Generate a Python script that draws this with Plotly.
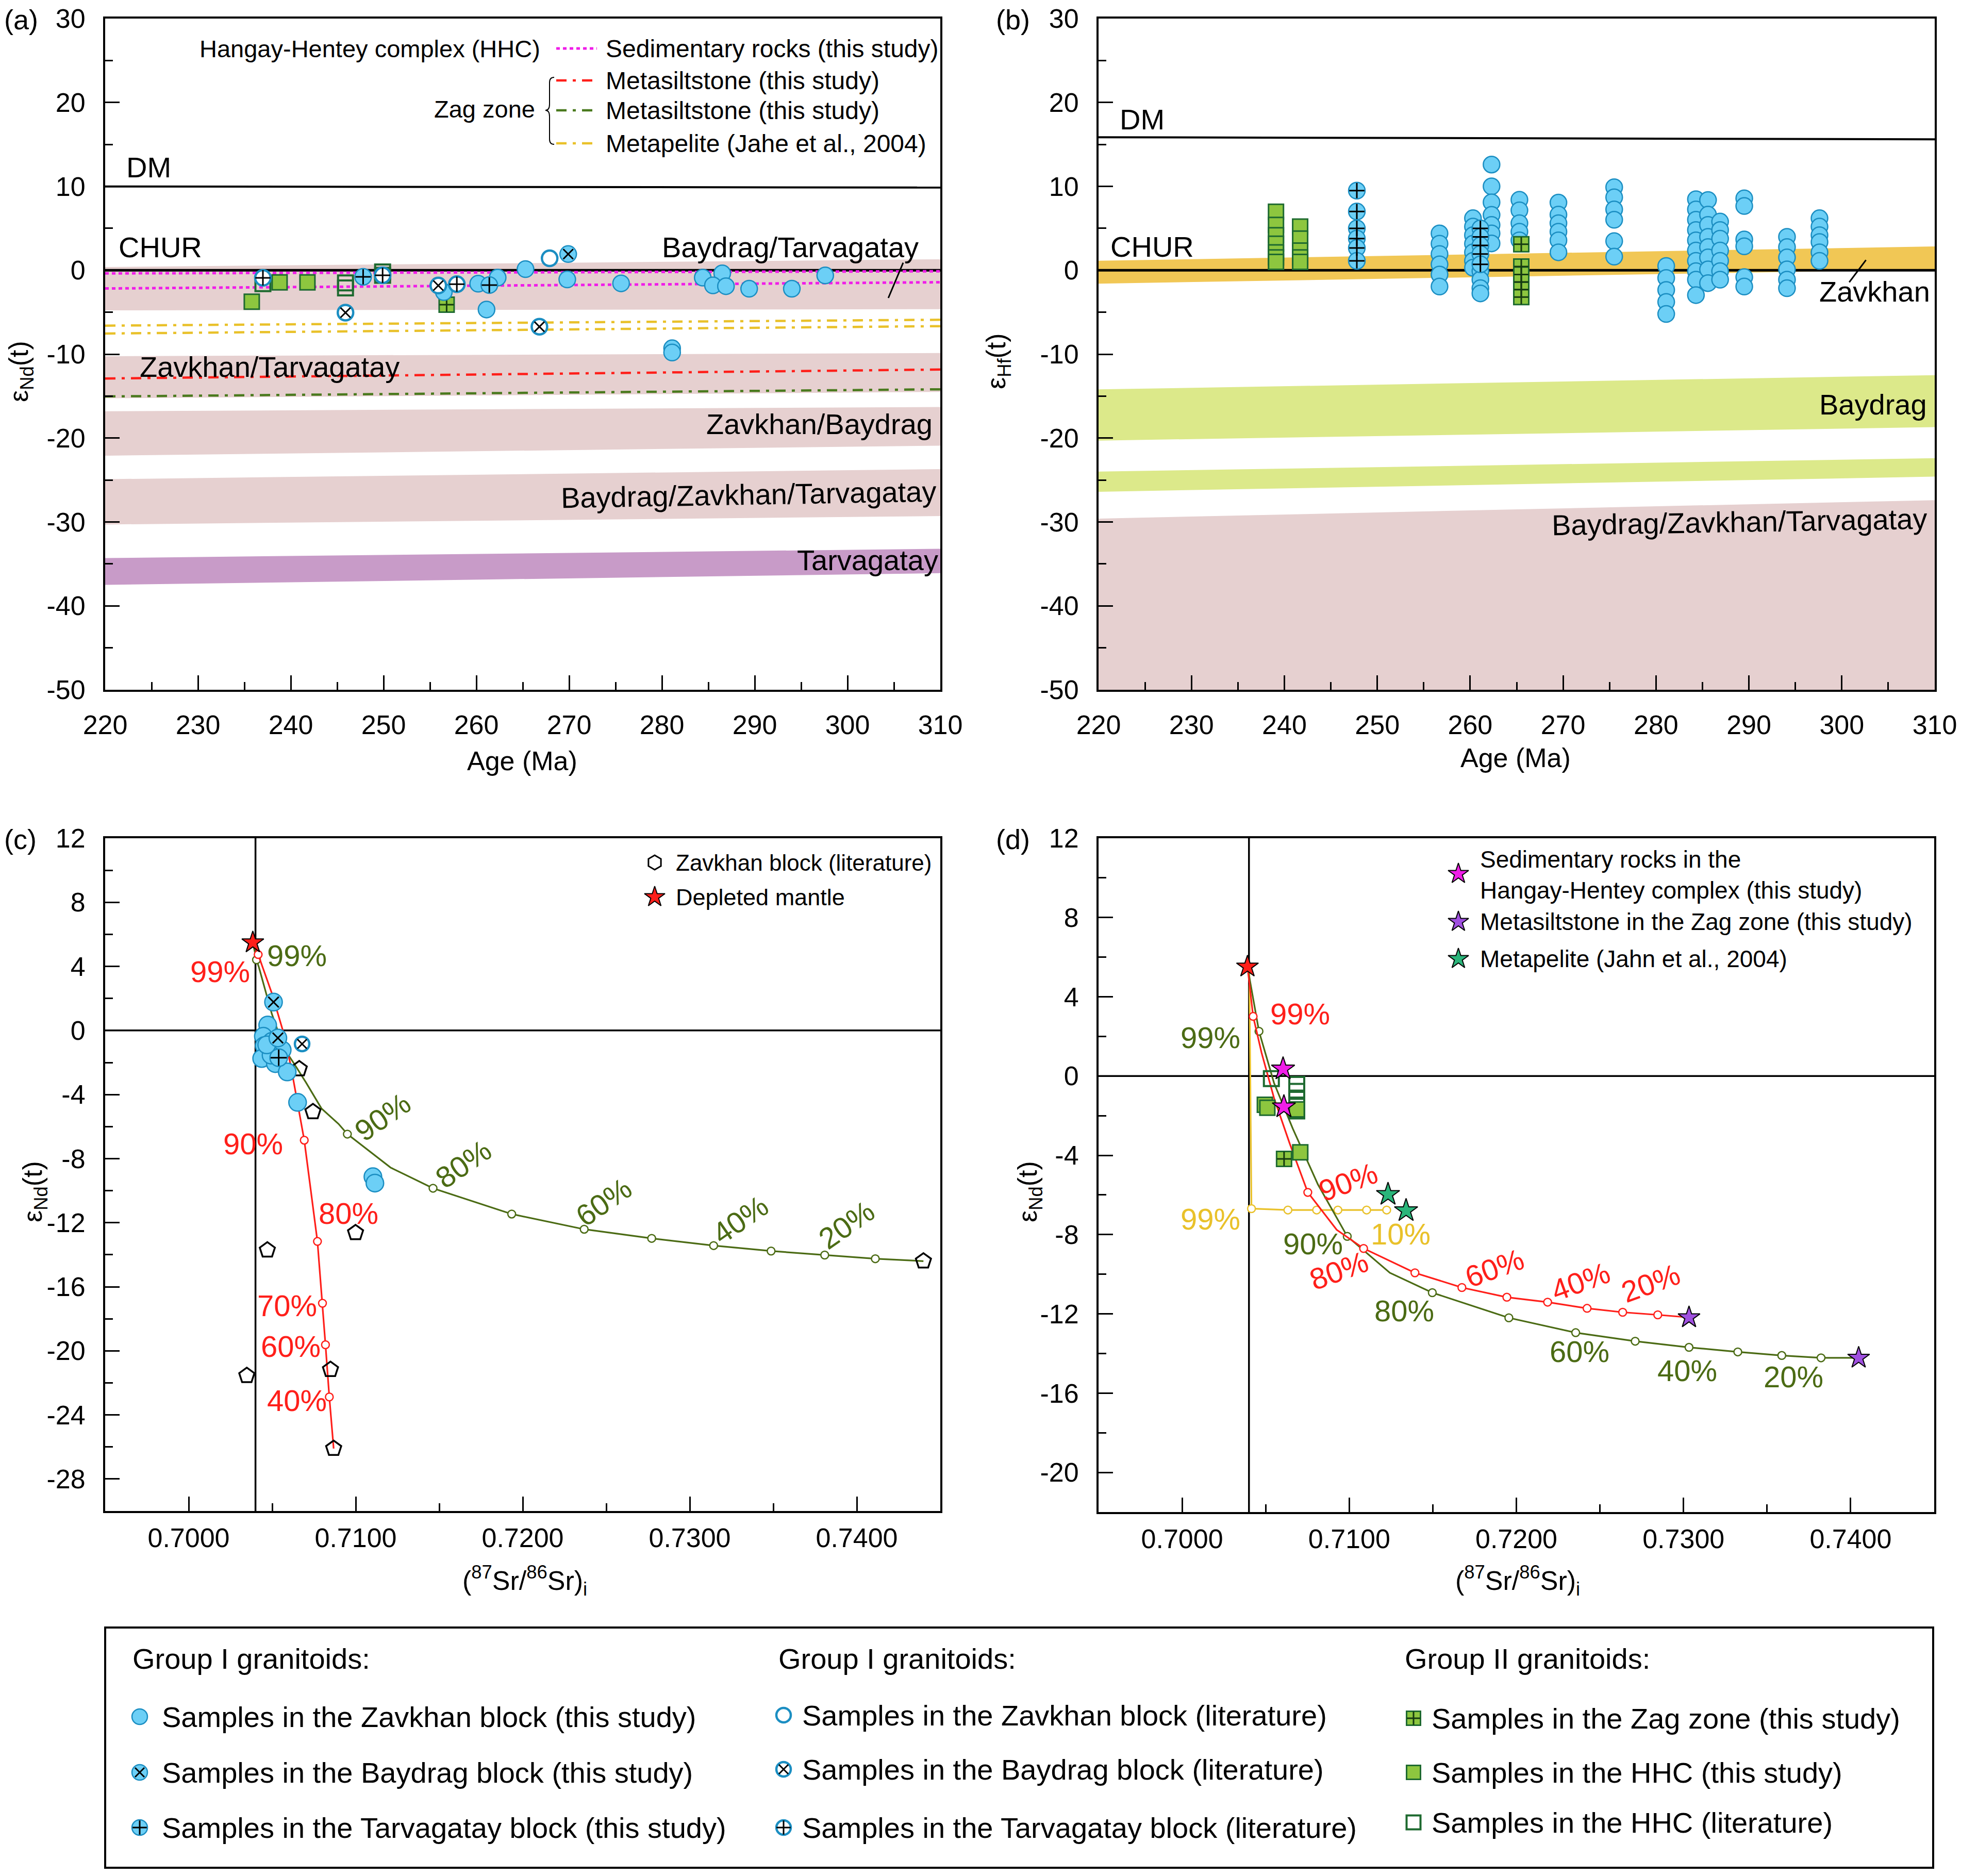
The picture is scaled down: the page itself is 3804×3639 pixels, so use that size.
import plotly.graph_objects as go

FONT = "Liberation Sans, Arial, Helvetica, sans-serif"
W, H = 3804, 3639

BLUE_F, BLUE_L = "#6ccff6", "#1b8ec2"
GREEN_F, GREEN_L = "#8dc63f", "#1e6a30"
RED = "#ff1f1a"
OLIVE = "#4b6b14"
YELLOW = "#e9c12a"
MAGENTA = "#f01ee8"
PURPLE = "#a050e0"
TEAL = "#2ab57a"
PINK_BAND = "#e6d0d0"
PURPLE_BAND = "#c89bc8"
ORANGE_BAND = "#f1c755"
LIME_BAND = "#dce98a"

# ======================= DATA =======================
# ---- Panel (a): eNd(t) vs age ----
a_age_ends = [220, 310]
a_dm_line = [9.99, 9.86]
a_chur_line = [0.0, 0.0]
a_sed_upper = [-0.37, -0.12]
a_sed_lower = [-2.17, -1.43]
a_zag_red = [-12.9, -11.83]
a_zag_green = [-15.04, -14.19]
a_metapelite_upper = [-6.6, -5.9]
a_metapelite_lower = [-7.54, -6.66]

a_band_labels = ["Baydrag/Tarvagatay", "Zavkhan/Tarvagatay", "Zavkhan/Baydrag",
                 "Baydrag/Zavkhan/Tarvagatay", "Tarvagatay"]
a_band_top_220 = [0.39, -10.25, -16.8, -24.9, -34.3]
a_band_top_310 = [1.31, -9.86, -16.3, -23.7, -33.2]
a_band_bot_220 = [-4.78, -15.26, -22.1, -30.3, -37.5]
a_band_bot_310 = [-4.64, -14.5, -20.9, -29.3, -36.1]

a_zav_this_age = [256.5, 260.2, 262.3, 261.1, 265.3, 269.8, 275.6, 284.4, 286.5, 285.5, 286.9, 289.4, 294.0, 297.6, 281.1, 281.1]
a_zav_this_end = [-2.6, -1.6, -0.88, -4.68, 0.14, -1.09, -1.56, -0.88, -0.37, -1.8, -1.9, -2.2, -2.2, -0.62, -9.3, -9.8]
a_bay_this_age = [269.9]
a_bay_this_end = [1.93]
a_tar_this_age = [247.8, 261.4]
a_tar_this_end = [-0.78, -1.76]
a_zav_lit_age = [267.9]
a_zav_lit_end = [1.43]
a_bay_lit_age = [245.9, 255.9, 266.8]
a_bay_lit_end = [-5.05, -1.82, -6.73]
a_tar_lit_age = [237.0, 249.9, 257.9]
a_tar_lit_end = [-0.9, -0.6, -1.66]
a_hhc_this_age = [235.8, 238.8, 241.8]
a_hhc_this_end = [-3.75, -1.44, -1.44]
a_hhc_lit_age = [237.0, 245.9, 245.9, 249.9, 249.9]
a_hhc_lit_end = [-1.6, -1.5, -2.1, -0.2, -0.6]
a_zag_this_age = [256.8]
a_zag_this_end = [-4.1]

# ---- Panel (b): eHf(t) vs age ----
b_age_ends = [220, 310]
b_dm_line = [15.86, 15.6]
b_chur_line = [0.0, 0.0]
b_band_labels = ["Zavkhan", "Baydrag", "", "Baydrag/Zavkhan/Tarvagatay"]
b_band_top_220 = [1.13, -14.2, -24.0, -29.6]
b_band_top_310 = [2.84, -12.5, -22.4, -27.4]
b_band_bot_220 = [-1.59, -20.3, -26.4, -50.0]
b_band_bot_310 = [0.1, -18.7, -24.6, -50.0]

b_zav_this_age = [256.7, 256.7, 256.7, 256.7, 256.7, 256.7,
                  260.3, 260.3, 260.3, 260.3, 260.3, 260.3, 260.3,
                  261.1, 261.1, 261.1, 261.1,
                  262.3, 262.3, 262.3, 262.3, 262.3, 262.3, 262.3,
                  265.3, 265.3, 265.3, 265.3, 265.3,
                  269.5, 269.5, 269.5, 269.5, 269.5, 269.5,
                  275.5, 275.5, 275.5, 275.5, 275.5, 275.5,
                  281.1, 281.1, 281.1, 281.1, 281.1,
                  284.3, 284.3, 284.3, 284.3, 284.3, 284.3, 284.3, 284.3, 284.3, 284.3,
                  285.6, 285.6, 285.6, 285.6, 285.6, 285.6, 285.6, 285.6,
                  286.9, 286.9, 286.9, 286.9, 286.9, 286.9, 286.9,
                  289.5, 289.5, 289.5, 289.5, 289.5, 289.5,
                  294.1, 294.1, 294.1, 294.1, 294.1, 294.1,
                  297.6, 297.6, 297.6, 297.6, 297.6, 297.6]
b_zav_this_ehf = [4.39, 3.17, 1.94, 0.71, -0.51, -1.94,
                  6.2, 5.2, 4.18, 3.16, 2.14, 1.12, 0.31,
                  -0.1, -1.12, -2.14, -2.76,
                  12.6, 10.0, 8.1, 6.6, 5.4, 4.4, 3.2,
                  8.4, 7.15, 5.61, 4.59, 3.57,
                  8.06, 6.63, 5.61, 4.59, 3.57, 2.14,
                  9.9, 8.7, 7.25, 6.02, 3.47, 1.63,
                  0.51, -0.92, -2.35, -3.78, -5.21,
                  8.47, 7.25, 6.02, 4.8, 3.57, 2.35, 1.12, -0.1, -1.12, -2.96,
                  8.37, 6.63, 5.41, 3.98, 2.76, 1.53, 0.1, -1.53,
                  5.8, 4.8, 3.77, 2.35, 1.12, -0.1, -1.12,
                  8.57, 7.66, 3.67, 2.86, -0.82, -1.94,
                  3.98, 2.76, 1.53, 0.1, -1.12, -2.14,
                  6.2, 5.2, 4.18, 3.37, 2.14, 1.12]
b_tar_this_age = [247.8, 247.8, 247.8, 247.8, 247.8, 247.8, 261.1, 261.1, 261.1, 261.1, 261.1]
b_tar_this_ehf = [9.49, 7.0, 5.0, 3.78, 2.65, 1.12, 5.0, 3.98, 2.96, 1.94, 0.71]
b_hhc_this_age = [239.1, 239.1, 239.1, 239.1, 239.1, 239.1, 239.1, 241.7, 241.7, 241.7, 241.7, 241.7]
b_hhc_this_ehf = [6.98, 5.41, 4.18, 3.16, 2.14, 1.53, 1.0, 5.2, 3.78, 2.35, 1.53, 1.0]
b_zag_this_age = [265.5, 265.5, 265.5, 265.5, 265.5, 265.5]
b_zag_this_ehf = [3.1, 0.45, -0.5, -1.4, -2.3, -3.2]

# ---- Panel (c): eNd(t) vs (87Sr/86Sr)i ----
c_dm_sr = [0.70384]
c_dm_nd = [5.49]
c_ref_sr = 0.7040
c_zav_this_sr = [0.70473, 0.70447, 0.70452, 0.70437, 0.70519, 0.70590, 0.70652, 0.70498, 0.70560, 0.70493, 0.70467, 0.71103, 0.71115]
c_zav_this_nd = [0.34, -0.36, -0.95, -1.75, -2.07, -2.59, -4.49, -0.68, -1.22, -1.54, -0.90, -9.13, -9.53]
c_bay_this_sr = [0.70508, 0.70534]
c_bay_this_nd = [1.77, -0.47]
c_tar_this_sr = [0.70539]
c_tar_this_nd = [-1.70]
c_bay_lit_sr = [0.70679]
c_bay_lit_nd = [-0.84]
c_zavblock_sr = [0.70662, 0.70744, 0.70999, 0.70471, 0.70348, 0.70849, 0.70868, 0.74399]
c_zavblock_nd = [-2.40, -5.08, -12.63, -13.71, -21.55, -21.17, -26.10, -14.40]
c_red_curve_sr = [0.70384, 0.70416, 0.70498, 0.70565, 0.70611, 0.70652, 0.70692, 0.70771, 0.70801, 0.70819, 0.70842, 0.70868]
c_red_curve_nd = [5.49, 4.74, 2.32, -0.04, -2.18, -4.54, -6.85, -13.17, -17.03, -19.62, -22.88, -26.10]
c_red_mark_sr = [0.70416, 0.70692, 0.70771, 0.70801, 0.70819, 0.70842]
c_red_mark_nd = [4.74, -6.85, -13.17, -17.03, -19.62, -22.88]
c_green_curve_sr = [0.70384, 0.70406, 0.70421, 0.70498, 0.70570, 0.70631, 0.70703, 0.70795, 0.70897, 0.70950, 0.71209,
                    0.71463, 0.71934, 0.72368, 0.72772, 0.73143, 0.73487, 0.73808, 0.74111, 0.74399]
c_green_curve_nd = [5.49, 4.41, 3.93, 1.03, -1.11, -2.07, -3.26, -4.87, -5.83, -6.47, -8.56,
                    -9.85, -11.46, -12.41, -12.98, -13.43, -13.77, -14.02, -14.25, -14.40]
c_green_mark_sr = [0.70406, 0.70950, 0.71463, 0.71934, 0.72368, 0.72772, 0.73143, 0.73487, 0.73808, 0.74111]
c_green_mark_nd = [4.41, -6.47, -9.85, -11.46, -12.41, -12.98, -13.43, -13.77, -14.02, -14.25]
c_red_pct = ["99%", "90%", "80%", "70%", "60%", "40%"]
c_red_pct_sr = [0.70187, 0.70385, 0.70958, 0.70591, 0.70610, 0.70647]
c_red_pct_nd = [3.68, -7.07, -11.40, -17.19, -19.72, -23.10]
c_green_pct = ["99%", "90%", "80%", "60%", "40%", "20%"]
c_green_pct_sr = [0.70647, 0.71160, 0.71646, 0.72484, 0.73303, 0.73939]
c_green_pct_nd = [4.69, -5.39, -8.34, -10.71, -11.81, -12.13]

# ---- Panel (d): eNd(t) vs (87Sr/86Sr)i ----
d_dm_sr = [0.70391]
d_dm_nd = [5.52]
d_ref_sr = 0.7040
d_red_curve_sr = [0.70391, 0.70425, 0.70475, 0.70550, 0.70644, 0.70752, 0.70925, 0.71086, 0.71393, 0.71674, 0.71943,
                  0.72187, 0.72423, 0.72636, 0.72846, 0.73033]
d_red_curve_nd = [5.52, 3.01, 1.19, -1.11, -3.41, -5.87, -7.76, -8.70, -9.93, -10.67, -11.16,
                  -11.41, -11.72, -11.92, -12.05, -12.18]
d_red_mark_sr = [0.70425, 0.70752, 0.71086, 0.71393, 0.71674, 0.71943, 0.72187, 0.72423, 0.72636, 0.72846]
d_red_mark_nd = [3.01, -5.87, -8.70, -9.93, -10.67, -11.16, -11.41, -11.72, -11.92, -12.05]
d_green_curve_sr = [0.70391, 0.70460, 0.70550, 0.70662, 0.70812, 0.70988, 0.71243, 0.71497, 0.71955, 0.72355, 0.72711,
                    0.73033, 0.73325, 0.73588, 0.73823, 0.74048]
d_green_curve_nd = [5.52, 2.26, -0.35, -2.65, -5.46, -8.09, -9.93, -10.93, -12.20, -12.95, -13.38,
                    -13.69, -13.92, -14.10, -14.22, -14.22]
d_green_mark_sr = [0.70460, 0.70988, 0.71497, 0.71955, 0.72355, 0.72711, 0.73033, 0.73325, 0.73588, 0.73823]
d_green_mark_nd = [2.26, -8.09, -10.93, -12.20, -12.95, -13.38, -13.69, -13.92, -14.10, -14.22]
d_yellow_curve_sr = [0.70402, 0.70415, 0.70633, 0.70805, 0.70932, 0.71104, 0.71224]
d_yellow_curve_nd = [5.52, -6.69, -6.76, -6.76, -6.76, -6.76, -6.76]
d_yellow_mark_sr = [0.70415, 0.70633, 0.70805, 0.70932, 0.71104, 0.71224]
d_yellow_mark_nd = [-6.69, -6.76, -6.76, -6.76, -6.76, -6.76]
d_sed_sr = [0.70604, 0.70609]
d_sed_nd = [0.36, -1.55]
d_metasilt_sr = [0.73033, 0.74048]
d_metasilt_nd = [-12.18, -14.22]
d_metapelite_sr = [0.71232, 0.71340]
d_metapelite_nd = [-5.97, -6.79]
d_hhc_lit_sr = [0.70534, 0.70686, 0.70686, 0.70686, 0.70686, 0.70686]
d_hhc_lit_nd = [-0.13, -0.42, -0.77, -1.11, -1.46, -1.76]
d_hhc_this_sr = [0.70495, 0.70510, 0.70686, 0.70707]
d_hhc_this_nd = [-1.45, -1.60, -1.68, -3.85]
d_zag_this_sr = [0.70610]
d_zag_this_nd = [-4.18]
d_red_pct = ["99%", "90%", "80%", "60%", "40%", "20%"]
d_red_pct_sr = [0.70707, 0.70992, 0.70936, 0.71868, 0.72385, 0.72805]
d_red_pct_nd = [3.15, -5.33, -9.80, -9.68, -10.36, -10.44]
d_green_pct = ["99%", "90%", "80%", "60%", "40%", "20%"]
d_green_pct_sr = [0.70168, 0.70782, 0.71329, 0.72378, 0.73022, 0.73659]
d_green_pct_nd = [1.95, -8.47, -11.85, -13.89, -14.86, -15.17]
d_yellow_pct = ["99%", "10%"]
d_yellow_pct_sr = [0.70168, 0.71307]
d_yellow_pct_nd = [-7.20, -7.96]

# tick labels
age_ticks = [220, 230, 240, 250, 260, 270, 280, 290, 300, 310]
eps_ab_ticks = [30, 20, 10, 0, -10, -20, -30, -40, -50]
sr_ticks = [0.70, 0.71, 0.72, 0.73, 0.74]
sr_ticktext = ["0.7000", "0.7100", "0.7200", "0.7300", "0.7400"]
eps_c_ticks = [12, 8, 4, 0, -4, -8, -12, -16, -20, -24, -28]
eps_d_ticks = [12, 8, 4, 0, -4, -8, -12, -16, -20]

# ======================= FIGURE =======================
fig = go.Figure()

def dom_x(p0, p1):
    return [p0 / W, p1 / W]

def dom_y(p0, p1):
    return [1 - p1 / H, 1 - p0 / H]

def band(xe, t0, t1, b0, b1, color, xa, ya):
    fig.add_trace(go.Scatter(x=[xe[0], xe[1], xe[1], xe[0]], y=[t0, t1, b1, b0],
                             fill="toself", fillcolor=color, mode="lines", line=dict(width=0),
                             xaxis=xa, yaxis=ya, showlegend=False, hoverinfo="skip"))

def line(x, y, color, width, xa, ya, dash="solid"):
    fig.add_trace(go.Scatter(x=x, y=y, mode="lines", line=dict(color=color, width=width, dash=dash),
                             xaxis=xa, yaxis=ya, showlegend=False, hoverinfo="skip"))

def pts(x, y, kind, xa, ya, size=32):
    base = dict(x=x, y=y, mode="markers", xaxis=xa, yaxis=ya, showlegend=False, hoverinfo="skip")
    if kind in ("zav_this", "bay_this", "tar_this"):
        mk = dict(symbol="circle", size=size, color=BLUE_F, line=dict(color=BLUE_L, width=2.5))
    elif kind in ("zav_lit", "bay_lit", "tar_lit"):
        mk = dict(symbol="circle", size=size - 2, color="white", line=dict(color=BLUE_L, width=4.5))
    elif kind in ("hhc_this", "zag_this"):
        mk = dict(symbol="square", size=size - 3, color=GREEN_F, line=dict(color=GREEN_L, width=3))
    elif kind == "hhc_lit":
        mk = dict(symbol="square", size=size - 3, color="rgba(0,0,0,0)", line=dict(color=GREEN_L, width=4))
    fig.add_trace(go.Scatter(**base, marker=mk))
    if kind.startswith("bay"):
        fig.add_trace(go.Scatter(**base, marker=dict(symbol="x-thin", size=size * 0.6, color="black",
                                                     line=dict(color="black", width=3))))
    if kind.startswith("tar"):
        fig.add_trace(go.Scatter(**base, marker=dict(symbol="cross-thin", size=size * 0.66, color="black",
                                                     line=dict(color="black", width=3))))
    if kind == "zag_this":
        fig.add_trace(go.Scatter(**base, marker=dict(symbol="cross-thin", size=size * 0.62, color="#153a10",
                                                     line=dict(color="#153a10", width=3))))

def stars(x, y, color, xa, ya, size=32):
    fig.add_trace(go.Scatter(x=x, y=y, mode="markers", xaxis=xa, yaxis=ya, showlegend=False, hoverinfo="skip",
                             marker=dict(symbol="star", size=size, color=color, line=dict(color="black", width=2))))

def curve(x, y, mx, my, color, xa, ya):
    fig.add_trace(go.Scatter(x=x, y=y, mode="lines", line=dict(color=color, width=3.2),
                             xaxis=xa, yaxis=ya, showlegend=False, hoverinfo="skip"))
    fig.add_trace(go.Scatter(x=mx, y=my, mode="markers", xaxis=xa, yaxis=ya, showlegend=False, hoverinfo="skip",
                             marker=dict(symbol="circle", size=15, color="white", line=dict(color=color, width=2.5))))

DASHDOT = "20px,12px,6px,12px"
DOT = "7px,6px"

# ---------- Panel (a) ----------
for i in range(len(a_band_labels)):
    col = PURPLE_BAND if a_band_labels[i] == "Tarvagatay" else PINK_BAND
    band(a_age_ends, a_band_top_220[i], a_band_top_310[i], a_band_bot_220[i], a_band_bot_310[i], col, "x", "y")
line(a_age_ends, a_dm_line, "black", 4, "x", "y")
line(a_age_ends, a_chur_line, "black", 5, "x", "y")
line(a_age_ends, a_metapelite_upper, YELLOW, 4.5, "x", "y", DASHDOT)
line(a_age_ends, a_metapelite_lower, YELLOW, 4.5, "x", "y", DASHDOT)
line(a_age_ends, a_zag_red, RED, 4.5, "x", "y", DASHDOT)
line(a_age_ends, a_zag_green, "#4a7a1e", 4.5, "x", "y", DASHDOT)
line(a_age_ends, a_sed_upper, MAGENTA, 5, "x", "y", DOT)
line(a_age_ends, a_sed_lower, MAGENTA, 5, "x", "y", DOT)
pts(a_hhc_lit_age, a_hhc_lit_end, "hhc_lit", "x", "y")
pts(a_hhc_this_age, a_hhc_this_end, "hhc_this", "x", "y")
pts(a_zag_this_age, a_zag_this_end, "zag_this", "x", "y")
pts(a_zav_this_age, a_zav_this_end, "zav_this", "x", "y")
pts(a_bay_this_age, a_bay_this_end, "bay_this", "x", "y")
pts(a_tar_this_age, a_tar_this_end, "tar_this", "x", "y")
pts(a_zav_lit_age, a_zav_lit_end, "zav_lit", "x", "y")
pts(a_bay_lit_age, a_bay_lit_end, "bay_lit", "x", "y")
pts(a_tar_lit_age, a_tar_lit_end, "tar_lit", "x", "y")

# ---------- Panel (b) ----------
b_colors = [ORANGE_BAND, LIME_BAND, LIME_BAND, PINK_BAND]
for i in range(len(b_band_labels)):
    band(b_age_ends, b_band_top_220[i], b_band_top_310[i], b_band_bot_220[i], b_band_bot_310[i], b_colors[i], "x2", "y2")
line(b_age_ends, b_dm_line, "black", 4, "x2", "y2")
line(b_age_ends, b_chur_line, "black", 5, "x2", "y2")
pts(b_hhc_this_age, b_hhc_this_ehf, "hhc_this", "x2", "y2")
pts(b_zav_this_age, b_zav_this_ehf, "zav_this", "x2", "y2")
pts(b_tar_this_age, b_tar_this_ehf, "tar_this", "x2", "y2")
pts(b_zag_this_age, b_zag_this_ehf, "zag_this", "x2", "y2")

# ---------- Panel (c) ----------
curve(c_green_curve_sr, c_green_curve_nd, c_green_mark_sr, c_green_mark_nd, OLIVE, "x3", "y3")
curve(c_red_curve_sr, c_red_curve_nd, c_red_mark_sr, c_red_mark_nd, RED, "x3", "y3")
fig.add_trace(go.Scatter(x=c_zavblock_sr, y=c_zavblock_nd, mode="markers", xaxis="x3", yaxis="y3",
                         showlegend=False, hoverinfo="skip",
                         marker=dict(symbol="pentagon", size=31, color="rgba(0,0,0,0)",
                                     line=dict(color="black", width=3.5))))
pts(c_zav_this_sr, c_zav_this_nd, "zav_this", "x3", "y3", size=34)
pts(c_bay_this_sr, c_bay_this_nd, "bay_this", "x3", "y3", size=34)
pts(c_tar_this_sr, c_tar_this_nd, "tar_this", "x3", "y3", size=34)
pts(c_bay_lit_sr, c_bay_lit_nd, "bay_lit", "x3", "y3", size=30)
stars(c_dm_sr, c_dm_nd, RED, "x3", "y3", size=32)

# ---------- Panel (d) ----------
curve(d_yellow_curve_sr, d_yellow_curve_nd, d_yellow_mark_sr, d_yellow_mark_nd, YELLOW, "x4", "y4")
curve(d_green_curve_sr, d_green_curve_nd, d_green_mark_sr, d_green_mark_nd, OLIVE, "x4", "y4")
curve(d_red_curve_sr, d_red_curve_nd, d_red_mark_sr, d_red_mark_nd, RED, "x4", "y4")
pts(d_hhc_lit_sr, d_hhc_lit_nd, "hhc_lit", "x4", "y4")
pts(d_hhc_this_sr, d_hhc_this_nd, "hhc_this", "x4", "y4")
pts(d_zag_this_sr, d_zag_this_nd, "zag_this", "x4", "y4")
stars(d_sed_sr, d_sed_nd, MAGENTA, "x4", "y4", size=34)
stars(d_metasilt_sr, d_metasilt_nd, PURPLE, "x4", "y4")
stars(d_metapelite_sr, d_metapelite_nd, TEAL, "x4", "y4", size=34)
stars(d_dm_sr, d_dm_nd, RED, "x4", "y4")

# ---------- Overlay (pixel space) legend keys ----------
OV = ("x5", "y5")
line([1079, 1158], [94, 94], MAGENTA, 5, *OV, DOT)
line([1079, 1158], [156, 156], RED, 4.5, *OV, DASHDOT)
line([1079, 1158], [214, 214], "#4a7a1e", 4.5, *OV, DASHDOT)
line([1079, 1158], [278, 278], YELLOW, 4.5, *OV, DASHDOT)
fig.add_trace(go.Scatter(x=[1270], y=[1673], mode="markers", xaxis="x5", yaxis="y5", showlegend=False,
                         hoverinfo="skip", marker=dict(symbol="hexagon", size=28, color="rgba(0,0,0,0)",
                                                       line=dict(color="black", width=3))))
stars([1270], [1740], RED, *OV, size=30)
stars([2829], [1695], MAGENTA, *OV, size=30)
stars([2829], [1788], PURPLE, *OV, size=30)
stars([2829], [1860], TEAL, *OV, size=30)
pts([271], [3330], "zav_this", *OV, size=30)
pts([271], [3438], "bay_this", *OV, size=30)
pts([271], [3545], "tar_this", *OV, size=30)
pts([1520], [3327], "zav_lit", *OV, size=30)
pts([1520], [3432], "bay_lit", *OV, size=30)
pts([1520], [3545], "tar_lit", *OV, size=30)
pts([2742], [3333], "zag_this", *OV, size=30)
pts([2742], [3438], "hhc_this", *OV, size=30)
pts([2742], [3535], "hhc_lit", *OV, size=30)

# ======================= AXES =======================
TF = dict(family=FONT, size=52, color="black")

def axis_common():
    return dict(showline=True, mirror=True, linecolor="black", linewidth=4, showgrid=False, zeroline=False,
                ticks="inside", tickwidth=3, tickcolor="black", tickfont=TF, fixedrange=True, automargin=False)

def age_axis(anchor, dom):
    d = axis_common()
    d.update(domain=dom, anchor=anchor, range=[220, 310], tickmode="array", tickvals=age_ticks,
             ticktext=[str(v) for v in age_ticks], ticklen=28, ticklabelstandoff=20,
             minor=dict(ticks="inside", ticklen=15, tickwidth=3, tickcolor="black", dtick=5, tick0=220))
    return d

def eps_axis(anchor, dom, rng, tv, minor_dt):
    d = axis_common()
    d.update(domain=dom, anchor=anchor, range=rng, tickmode="array", tickvals=tv,
             ticktext=[str(v) for v in tv], ticklen=28, ticklabelstandoff=24,
             minor=dict(ticks="inside", ticklen=15, tickwidth=3, tickcolor="black", dtick=minor_dt, tick0=0))
    return d

def sr_axis(anchor, dom):
    d = axis_common()
    d.update(domain=dom, anchor=anchor, range=[0.695, 0.745], tickmode="array", tickvals=sr_ticks,
             ticktext=sr_ticktext, ticklen=28, ticklabelstandoff=4,
             minor=dict(ticks="inside", ticklen=15, tickwidth=3, tickcolor="black", dtick=0.005, tick0=0.695))
    return d

A = (204, 1824, 36, 1338)
B = (2131, 3753, 36, 1338)
C = (204, 1824, 1626, 2931)
D = (2131, 3752, 1626, 2933)

layout_axes = dict(
    xaxis=age_axis("y", dom_x(A[0], A[1])),
    yaxis=eps_axis("x", dom_y(A[2], A[3]), [-50, 30], eps_ab_ticks, 5),
    xaxis2=age_axis("y2", dom_x(B[0], B[1])),
    yaxis2=eps_axis("x2", dom_y(B[2], B[3]), [-50, 30], eps_ab_ticks, 5),
    xaxis3=sr_axis("y3", dom_x(C[0], C[1])),
    yaxis3=eps_axis("x3", dom_y(C[2], C[3]), [-30, 12], eps_c_ticks, 2),
    xaxis4=sr_axis("y4", dom_x(D[0], D[1])),
    yaxis4=eps_axis("x4", dom_y(D[2], D[3]), [-22, 12], eps_d_ticks, 2),
    xaxis5=dict(domain=[0, 1], anchor="y5", range=[0, W], visible=False, fixedrange=True, automargin=False),
    yaxis5=dict(domain=[0, 1], anchor="x5", range=[H, 0], visible=False, fixedrange=True, automargin=False),
)

# ======================= TEXT =======================
ann = []

def txt(text, x, y, size, xref, yref, xanchor="left", yanchor="middle", color="black", angle=0):
    ann.append(dict(text=text, x=x, y=y, xref=xref, yref=yref, xanchor=xanchor, yanchor=yanchor,
                    showarrow=False, textangle=angle, align="left",
                    font=dict(family=FONT, size=size, color=color)))

# panel letters
txt("(a)", 6, 38, 54, "x5", "y5")
txt("(b)", 1930, 38, 54, "x5", "y5")
txt("(c)", 6, 1628, 54, "x5", "y5")
txt("(d)", 1930, 1628, 54, "x5", "y5")

# axis titles
txt("ε<sub>Nd</sub>(t)", 40, 721, 52, "x5", "y5", "center", "middle", angle=-90)
txt("ε<sub>Hf</sub>(t)", 1936, 701, 52, "x5", "y5", "center", "middle", angle=-90)
txt("ε<sub>Nd</sub>(t)", 67, 2312, 52, "x5", "y5", "center", "middle", angle=-90)
txt("ε<sub>Nd</sub>(t)", 1997, 2312, 52, "x5", "y5", "center", "middle", angle=-90)
txt("Age (Ma)", 1013, 1476, 52, "x5", "y5", "center", "middle")
txt("Age (Ma)", 2940, 1470, 52, "x5", "y5", "center", "middle")
txt("(<sup>87</sup>Sr/<sup>86</sup>Sr)<sub>i</sub>", 1018, 3066, 52, "x5", "y5", "center", "middle")
txt("(<sup>87</sup>Sr/<sup>86</sup>Sr)<sub>i</sub>", 2944, 3066, 52, "x5", "y5", "center", "middle")

# panel (a) legend
txt("Hangay-Hentey complex (HHC)", 1050, 94, 47, "x5", "y5", "right")
txt("Sedimentary rocks (this study)", 1173, 94, 48, "x5", "y5")
txt("Zag zone", 1040, 211, 47, "x5", "y5", "right")
txt("Metasiltstone (this study)", 1173, 156, 48, "x5", "y5")
txt("Metasiltstone (this study)", 1173, 214, 48, "x5", "y5")
txt("Metapelite (Jahe et al., 2004)", 1173, 278, 48, "x5", "y5")

# panel (a) labels
txt("DM", 222.15, 12.29, 56, "x", "y")
txt("CHUR", 221.35, 2.73, 56, "x", "y")
txt(a_band_labels[0], 307.8, 2.73, 56, "x", "y", "right")
txt(a_band_labels[1], 223.6, -11.5, 56, "x", "y")
txt(a_band_labels[2], 309.3, -18.35, 56, "x", "y", "right")
txt(a_band_labels[3], 309.7, -26.76, 56, "x", "y", "right", angle=-1)
txt(a_band_labels[4], 309.9, -34.55, 56, "x", "y", "right")

# panel (b) labels
txt("DM", 222.16, 17.97, 56, "x2", "y2")
txt("CHUR", 221.15, 2.81, 56, "x2", "y2")
txt(b_band_labels[0], 309.6, -2.55, 56, "x2", "y2", "right")
txt(b_band_labels[1], 309.3, -16.0, 56, "x2", "y2", "right")
txt(b_band_labels[3], 309.3, -30.0, 56, "x2", "y2", "right", angle=-1)

# panel (c) labels
for t, x, y in zip(c_red_pct, c_red_pct_sr, c_red_pct_nd):
    txt(t, x, y, 58, "x3", "y3", "center", "middle", RED)
for i, (t, x, y) in enumerate(zip(c_green_pct, c_green_pct_sr, c_green_pct_nd)):
    txt(t, x, y, 58, "x3", "y3", "center", "middle", OLIVE, 0 if i == 0 else -35)
txt("Zavkhan block (literature)", 1309, 1673, 44, "x5", "y5")
txt("Depleted mantle", 1309, 1740, 45, "x5", "y5")

# panel (d) labels
for i, (t, x, y) in enumerate(zip(d_red_pct, d_red_pct_sr, d_red_pct_nd)):
    txt(t, x, y, 58, "x4", "y4", "center", "middle", RED, 0 if i == 0 else -20)
for t, x, y in zip(d_green_pct, d_green_pct_sr, d_green_pct_nd):
    txt(t, x, y, 58, "x4", "y4", "center", "middle", OLIVE)
for t, x, y in zip(d_yellow_pct, d_yellow_pct_sr, d_yellow_pct_nd):
    txt(t, x, y, 58, "x4", "y4", "center", "middle", YELLOW)
txt("Sedimentary rocks in the<br>Hangay-Hentey complex (this study)", 2869, 1697, 46, "x5", "y5")
txt("Metasiltstone in the Zag zone (this study)", 2869, 1788, 46, "x5", "y5")
txt("Metapelite (Jahn et al., 2004)", 2869, 1860, 46, "x5", "y5")

# bottom legend
LG = 56
txt("Group I granitoids:", 255, 3217, LG, "x5", "y5")
txt("Group I granitoids:", 1508, 3217, LG, "x5", "y5")
txt("Group II granitoids:", 2723, 3217, LG, "x5", "y5")
txt("Samples in the Zavkhan block (this study)", 312, 3330, LG, "x5", "y5")
txt("Samples in the Baydrag block (this study)", 312, 3438, LG, "x5", "y5")
txt("Samples in the Tarvagatay block (this study)", 312, 3545, LG, "x5", "y5")
txt("Samples in the Zavkhan block (literature)", 1554, 3327, LG, "x5", "y5")
txt("Samples in the Baydrag block (literature)", 1554, 3432, LG, "x5", "y5")
txt("Samples in the Tarvagatay block (literature)", 1554, 3545, LG, "x5", "y5")
txt("Samples in the Zag zone (this study)", 2775, 3333, LG, "x5", "y5")
txt("Samples in the HHC (this study)", 2775, 3438, LG, "x5", "y5")
txt("Samples in the HHC (literature)", 2775, 3535, LG, "x5", "y5")

# ======================= SHAPES =======================
shapes = [
    dict(type="path", xref="x5", yref="y5",
         path="M 1075,150 Q 1066,150 1066,160 L 1066,202 Q 1066,214 1058,214 Q 1066,214 1066,226 L 1066,270 Q 1066,280 1075,280",
         line=dict(color="black", width=2)),
    dict(type="line", xref="x", yref="y", x0=304.4, y0=-3.3, x1=306.0, y1=0.9, line=dict(color="black", width=3)),
    dict(type="line", xref="x2", yref="y2", x0=300.8, y0=-1.43, x1=302.6, y1=1.22, line=dict(color="black", width=3)),
    dict(type="line", xref="x3", yref="y3 domain", x0=c_ref_sr, x1=c_ref_sr, y0=0, y1=1,
         line=dict(color="black", width=3.5), layer="below"),
    dict(type="line", xref="x3 domain", yref="y3", x0=0, x1=1, y0=0, y1=0, line=dict(color="black", width=3.5),
         layer="below"),
    dict(type="line", xref="x4", yref="y4 domain", x0=d_ref_sr, x1=d_ref_sr, y0=0, y1=1,
         line=dict(color="black", width=3.5), layer="below"),
    dict(type="line", xref="x4 domain", yref="y4", x0=0, x1=1, y0=0, y1=0, line=dict(color="black", width=3.5),
         layer="below"),
    dict(type="rect", xref="x5", yref="y5", x0=204, y0=3157, x1=3750, y1=3623, line=dict(color="black", width=4)),
]

fig.update_layout(
    width=W, height=H, autosize=False,
    margin=dict(l=0, r=0, t=0, b=0, pad=0, autoexpand=False),
    paper_bgcolor="white", plot_bgcolor="rgba(0,0,0,0)",
    font=dict(family=FONT, size=52, color="black"),
    showlegend=False, annotations=ann, shapes=shapes,
    **layout_axes,
)

fig.write_html("out.html", include_plotlyjs=True, full_html=True,
               config={"displayModeBar": False, "responsive": False},
               post_script="document.body.style.margin='0';document.body.style.padding='0';")
